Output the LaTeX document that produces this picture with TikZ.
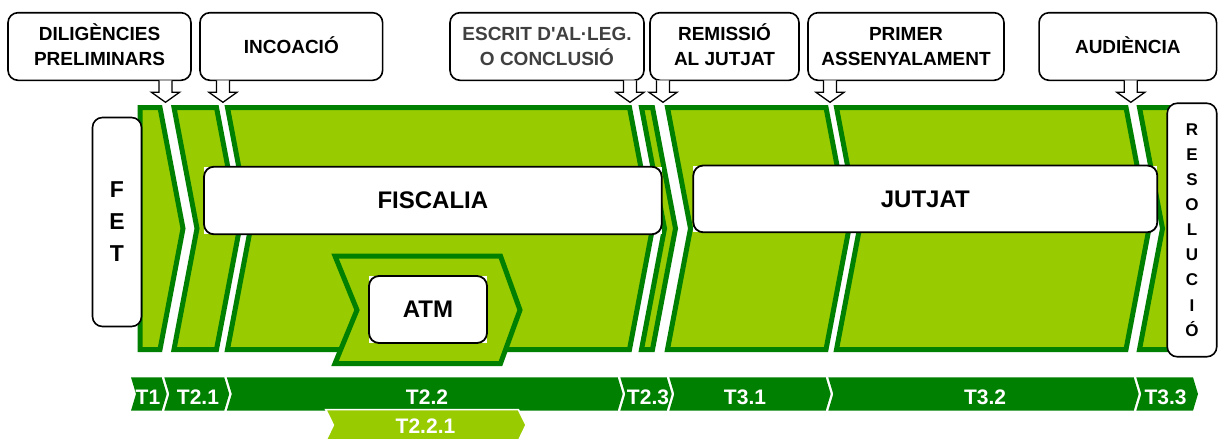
\documentclass[tikz,border=0pt]{standalone}
\usepackage{fontspec}
\newfontfamily\af{Liberation Sans}
\definecolor{lg}{HTML}{99CC00}
\definecolor{dg}{HTML}{008000}
\definecolor{txtgray}{HTML}{404040}
\tikzset{
  seg/.style={fill=lg, draw=dg, line width=5pt},
  lbl/.style={draw=black, line width=1.6pt, fill=white, rounded corners=10pt, inner sep=0pt, outer sep=0pt, align=center, minimum height=67.6pt, font=\af\bfseries\fontsize{19}{25}\selectfont},
  bigbox/.style={draw=black, line width=1.8pt, fill=white, rounded corners=10pt, inner sep=0pt, outer sep=0pt, font=\af\bfseries\fontsize{24}{28}\selectfont},
  vertbox/.style={draw=black, line width=1.6pt, fill=white, rounded corners=10pt, inner sep=0pt, outer sep=0pt, align=center},
  darrow/.pic={\draw[black, line width=1.3pt, fill=white, line join=miter] (-6.5,0) -- (-6.5,12) -- (-14,12) -- (0,22) -- (14,12) -- (6.5,12) -- (6.5,0);},
  tlab/.style={text=white, anchor=base, inner sep=0pt, font=\af\bfseries\fontsize{21}{21}\selectfont},
}
\newcommand\gseg[2]{\draw[seg] (#1,107.5) -- (#2,107.5) -- (#2+23,228.5) -- (#2,349.5) -- (#1,349.5) -- (#1+23,228.5) -- cycle;}
\newcommand\tpc[2]{\fill[dg] (#1,377.3) -- (#2,377.3) -- (#2+5,394) -- (#2,410.7) -- (#1,410.7) -- (#1+5,394) -- cycle;}
\begin{document}
\begin{tikzpicture}[x=1pt,y=-1pt]
\useasboundingbox (0,0) rectangle (1218,439);
% green phase segments
\draw[seg] (140,107.5) -- (160,107.5) -- (183,228.5) -- (160,349.5) -- (140,349.5) -- cycle;
\gseg{174}{216.5}
\gseg{227.5}{629.5}
\gseg{641.5}{652.5}
\gseg{667.5}{826}
\gseg{836.5}{1126}
\draw[seg] (1139.5,107.5) -- (1175,107.5) -- (1175,349.5) -- (1139.5,349.5) -- (1162.5,228.5) -- cycle;
% side boxes
\node[vertbox, minimum width=49pt, minimum height=209pt, font=\af\bfseries\fontsize{23}{32}\selectfont] (fet) at (117,222) {F\\E\\T};
\node[vertbox, minimum width=49.5pt, minimum height=253.5pt, font=\af\bfseries\fontsize{17}{25.1}\selectfont] (res) at (1192,230) {R\\E\\S\\O\\L\\U\\C\\I\\Ó};
% fiscalia / jutjat
\fill[white] (204,166.7) rectangle (661.7,234.3);
\node[bigbox, minimum width=457.7pt, minimum height=67.6pt] (fis) at (432.85,200.5) {FISCALIA};
\fill[white] (693.3,165.5) rectangle (1157.3,232.3);
\node[bigbox, minimum width=464pt, minimum height=66.8pt] (jut) at (925.3,198.9) {JUTJAT};
% ATM
\draw[seg] (335,256) -- (500.5,256) -- (520,310) -- (500.5,363.5) -- (335,363.5) -- (357,310) -- cycle;
\fill[white] (369,276) rectangle (487,343);
\node[bigbox, minimum width=118pt, minimum height=67pt] (atm) at (428,309.5) {ATM};
% top labels
\node[lbl, minimum width=183pt] (b1) at (99.5,46.5) {DILIG\smash{È}NCIES\\PRELIMINARS};
\node[lbl, minimum width=182.7pt] (b2) at (291.3,46.5) {INCOACI\smash{Ó}};
\node[lbl, minimum width=194pt, text=txtgray] (b3) at (547,46.5) {ESCRIT D'AL·LEG.\\O CONCLUSI\smash{Ó}};
\node[lbl, minimum width=149pt] (b4) at (724.5,46.5) {REMISSI\smash{Ó}\\AL JUTJAT};
\node[lbl, minimum width=196pt] (b5) at (906,46.5) {PRIMER\\ASSENYALAMENT};
\node[lbl, minimum width=177.5pt] (b6) at (1127.8,46.5) {AUDI\smash{È}NCIA};
% arrows
\pic at ([xshift=-25.5pt]b1.south east) {darrow};
\pic at ([xshift=23pt]b2.south west) {darrow};
\pic at ([xshift=-14pt]b3.south east) {darrow};
\pic at ([xshift=13pt]b4.south west) {darrow};
\pic at ([xshift=22pt]b5.south west) {darrow};
\pic at ([xshift=3pt]b6.south) {darrow};
% time bar
\tpc{131}{161.7}
\tpc{164.3}{224.2}
\tpc{226.8}{617.7}
\tpc{620.3}{666.7}
\tpc{669.3}{825.7}
\tpc{828.3}{1133.7}
\tpc{1136.3}{1193}
\filldraw[fill=lg, draw=white, line width=1.5pt] (325.7,409.5) -- (518.3,409.5) -- (526,425) -- (518.3,441) -- (325.7,441) -- (333.4,425) -- cycle;
\node[tlab] (t1) at (148,404.5) {T1};
\node[tlab] (t21) at (198,404.5) {T2.1};
\node[tlab] (t22) at (427,404.5) {T2.2};
\node[tlab] (t23) at (648,404.5) {T2.3};
\node[tlab] (t31) at (745,404.5) {T3.1};
\node[tlab] (t32) at (985,404.5) {T3.2};
\node[tlab] (t33) at (1165.5,404.5) {T3.3};
\node[tlab] (t221) at (425.5,433.5) {T2.2.1};
\end{tikzpicture}
\end{document}
